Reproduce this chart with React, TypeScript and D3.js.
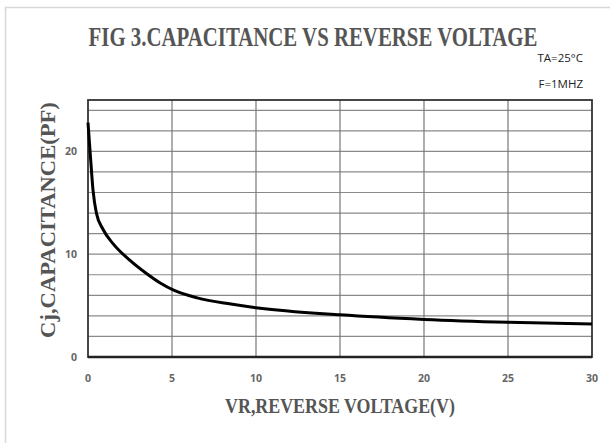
import React, { useLayoutEffect, useRef } from "react";
import * as d3 from "d3";

const voltage = [0, 0.15, 0.3, 0.5, 0.9, 1.5, 2.5, 3.5, 4.3, 5.1, 6.5, 8.5, 10, 15, 20, 25, 30];
const capacitance = [22.8, 19.4, 16.2, 14.0, 12.4, 11.0, 9.4, 8.1, 7.2, 6.5, 5.75, 5.15, 4.8, 4.1, 3.65, 3.37, 3.2];
const xTicks = [0, 5, 10, 15, 20, 25, 30];
const yTicks = [0, 10, 20];
const yGrid = [2, 4, 6, 8, 10, 12, 14, 16, 18, 20, 22, 24];

const W = 610;
const H = 443;
const left = 88;
const right = 592;
const top = 100;
const bottom = 357;

function FitText(props: {
  cx: number;
  cy: number;
  rotate?: number;
  width: number;
  size: number;
  text: string;
  family: string;
  weight?: string;
  fill: string;
}) {
  const ref = useRef<SVGTextElement>(null);
  const gRef = useRef<SVGGElement>(null);
  useLayoutEffect(() => {
    const t = ref.current;
    const g = gRef.current;
    if (!t || !g) return;
    const natural = t.getComputedTextLength() || props.width;
    const sx = props.width / natural;
    g.setAttribute(
      "transform",
      `translate(${props.cx},${props.cy}) rotate(${props.rotate || 0}) scale(${sx},1)`
    );
  }, [props.cx, props.cy, props.rotate, props.width, props.text, props.size]);
  return (
    <g ref={gRef} transform={`translate(${props.cx},${props.cy}) rotate(${props.rotate || 0})`}>
      <text
        ref={ref}
        x={0}
        y={0}
        textAnchor="middle"
        fontFamily={props.family}
        fontWeight={props.weight || "normal"}
        fontSize={props.size}
        fill={props.fill}
      >
        {props.text}
      </text>
    </g>
  );
}

const serif = "'Liberation Serif', 'DejaVu Serif', serif";

export default function App() {
  const x = d3.scaleLinear().domain([0, 30]).range([left, right]);
  const y = d3.scaleLinear().domain([0, 25]).range([bottom, top]);
  const line = d3
    .line<number>()
    .x((_, i) => x(voltage[i]))
    .y((d) => y(d))
    .curve(d3.curveMonotoneX);

  return (
    <svg
      width={W}
      height={H}
      style={{ position: "absolute", left: 0, top: 0, background: "#fff" }}
    >
      <rect x={0} y={0} width={W} height={H} fill="#fff" />
      <path d={`M5.5,${H} V7.5 H${W}`} fill="none" stroke="#d8d8d8" strokeWidth={1.5} />
      <FitText cx={313} cy={46} width={449} size={27} text="FIG 3.CAPACITANCE VS REVERSE VOLTAGE" family={serif} weight="bold" fill="#555" />
      <text x={583} y={62} textAnchor="end" fontFamily="'Open Sans', sans-serif" fontSize={11.5} fill="#222">
        TA=25°C
      </text>
      <text x={583} y={88} textAnchor="end" fontFamily="'Open Sans', sans-serif" fontSize={11.5} fill="#222">
        F=1MHZ
      </text>
      {yGrid.map((v) => (
        <line key={"h" + v} x1={left} x2={right} y1={y(v)} y2={y(v)} stroke="#8a8a8a" strokeWidth={1.2} />
      ))}
      {xTicks.slice(1, -1).map((v) => (
        <line key={"v" + v} x1={x(v)} x2={x(v)} y1={top} y2={bottom} stroke="#777" strokeWidth={1.2} />
      ))}
      <rect x={left} y={top} width={right - left} height={bottom - top} fill="none" stroke="#333" strokeWidth={1.8} />
      <line x1={left} x2={right} y1={bottom} y2={bottom} stroke="#222" strokeWidth={2.5} />
      <path d={line(capacitance) || ""} fill="none" stroke="#000" strokeWidth={3} strokeLinejoin="round" />
      {xTicks.map((v) => (
        <text key={"xt" + v} x={x(v)} y={382} textAnchor="middle" fontFamily="'Open Sans', sans-serif" fontWeight="bold" fontSize={10.5} fill="#666">
          {v}
        </text>
      ))}
      {yTicks.map((v) => (
        <text key={"yt" + v} x={77} y={y(v) + 4} textAnchor="end" fontFamily="'Open Sans', sans-serif" fontWeight="bold" fontSize={10.5} fill="#666">
          {v}
        </text>
      ))}
      <FitText cx={55} cy={220} rotate={-90} width={236} size={20} text="Cj,CAPACITANCE(PF)" family={serif} weight="bold" fill="#555" />
      <FitText cx={340} cy={413} width={230} size={20} text="VR,REVERSE VOLTAGE(V)" family={serif} weight="bold" fill="#555" />
    </svg>
  );
}
